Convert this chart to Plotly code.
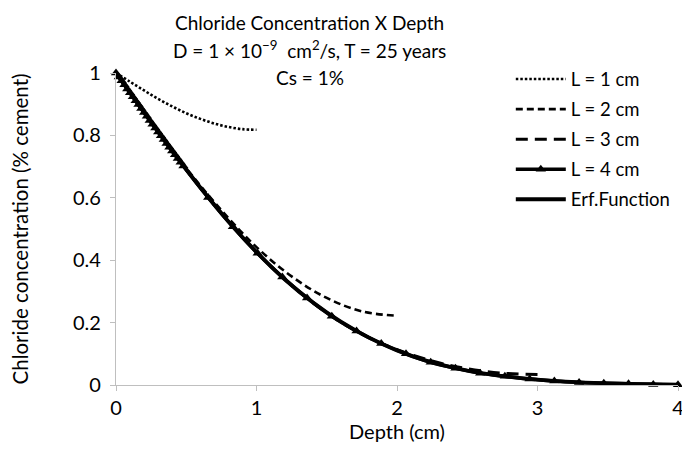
import plotly.graph_objects as go

# depth (cm) and chloride concentration (% cement)
x_l1 = [0, 0.1, 0.2, 0.3, 0.4, 0.5, 0.6, 0.7, 0.8, 0.9, 1.0]
y_l1 = [1, 0.972, 0.944, 0.917, 0.893, 0.871, 0.853, 0.838, 0.827, 0.820, 0.818]

x_l2 = [0, 0.25, 0.5, 0.75, 1.0, 1.25, 1.5, 1.75, 2.0]
y_l2 = [1, 0.844, 0.695, 0.560, 0.442, 0.348, 0.279, 0.236, 0.222]

x_l3 = [0, 0.25, 0.5, 0.75, 1.0, 1.25, 1.5, 1.75, 2.0, 2.25, 2.5, 2.75, 3.0]
y_l3 = [1, 0.842, 0.690, 0.551, 0.426, 0.319, 0.231, 0.163, 0.113, 0.077, 0.052, 0.038, 0.034]

x_l4 = [0, 0.02, 0.04, 0.06, 0.08, 0.10, 0.12, 0.14, 0.16, 0.18, 0.20, 0.22, 0.24,
        0.26, 0.28, 0.30, 0.32, 0.34, 0.36, 0.38, 0.40, 0.42, 0.44, 0.46, 0.48,
        0.656, 0.832, 1.008, 1.184, 1.36, 1.536, 1.712, 1.888, 2.064, 2.24, 2.416,
        2.592, 2.768, 2.944, 3.12, 3.296, 3.472, 3.648, 3.824, 4.0]
y_l4 = [1, 0.987, 0.975, 0.962, 0.949, 0.937, 0.924, 0.911, 0.899, 0.886, 0.873, 0.861, 0.848,
        0.836, 0.824, 0.811, 0.799, 0.787, 0.774, 0.762, 0.750, 0.738, 0.726, 0.714, 0.702,
        0.601, 0.507, 0.422, 0.346, 0.279, 0.220, 0.173, 0.133, 0.100, 0.073, 0.054,
        0.038, 0.028, 0.019, 0.013, 0.008, 0.006, 0.004, 0.002, 0.001]

x_erf = [0, 0.2, 0.4, 0.6, 0.8, 1.0, 1.2, 1.4, 1.6, 1.8, 2.0, 2.2, 2.4, 2.6, 2.8,
         3.0, 3.2, 3.4, 3.6, 3.8, 4.0]
y_erf = [1, 0.873, 0.750, 0.633, 0.524, 0.426, 0.339, 0.265, 0.203, 0.152, 0.111,
         0.079, 0.056, 0.038, 0.026, 0.017, 0.011, 0.007, 0.004, 0.0025, 0.0014]

FONT = "Lato, Carlito, Calibri, sans-serif"

fig = go.Figure()

fig.add_trace(go.Scatter(x=x_l1, y=y_l1, name="L = 1 cm", mode="lines", legendgroup="a",
                         line=dict(color="black", width=2.6, dash="2.5px,2px", shape="spline")))
fig.add_trace(go.Scatter(x=x_l2, y=y_l2, name="L = 2 cm", mode="lines", legendgroup="b",
                         line=dict(color="black", width=2.6, dash="7px,4px", shape="spline")))
fig.add_trace(go.Scatter(x=x_l3, y=y_l3, name="L = 3 cm", mode="lines", legendgroup="c",
                         line=dict(color="black", width=3, dash="12px,7px", shape="spline")))
fig.add_trace(go.Scatter(x=x_l4, y=y_l4, name="L = 4 cm", mode="lines+markers", legendgroup="d",
                         line=dict(color="black", width=3.5, shape="spline"),
                         marker=dict(symbol="triangle-up", size=9, color="black"),
                         cliponaxis=False))
fig.add_trace(go.Scatter(x=x_erf, y=y_erf, name="Erf.Function", mode="lines", legendgroup="e",
                         line=dict(color="black", width=3.8, shape="spline")))

# three-line chart title, centred over the left part of the plot
title_lines = ["Chloride Concentration X Depth",
               "D = 1 × 10<sup>−9</sup>  cm<sup>2</sup>/s, T = 25 years",
               "Cs = 1%"]
for txt, yy in zip(title_lines, [1.163, 1.074, 0.987]):
    fig.add_annotation(text=txt, xref="paper", yref="paper", x=0.345, y=yy,
                       xanchor="center", yanchor="middle", showarrow=False,
                       font=dict(size=19))

# the page body adds an 8px margin, so the figure is 8px smaller than the window
fig.update_layout(
    width=682, height=442,
    margin=dict(l=108, r=6, t=65, b=65),
    paper_bgcolor="white", plot_bgcolor="white",
    font=dict(family=FONT, size=20, color="black"),
    showlegend=True,
    legend=dict(x=0.7025, y=1.04, xanchor="left", yanchor="top", bgcolor="rgba(0,0,0,0)",
                font=dict(size=18.5), tracegroupgap=3, itemwidth=50),
    xaxis=dict(range=[0, 4], tickvals=[0, 1, 2, 3, 4], showgrid=False, zeroline=False,
               showline=True, linecolor="#bfbfbf", linewidth=1.3,
               ticks="outside", ticklen=5, tickcolor="#bfbfbf", ticklabeloverflow="allow",
               title=dict(text="Depth (cm)", font=dict(size=20), standoff=3)),
    yaxis=dict(range=[0, 1], tickvals=[0, 0.2, 0.4, 0.6, 0.8, 1],
               ticktext=["0", "0.2", "0.4", "0.6", "0.8", "1"],
               showgrid=False, zeroline=False, ticklabelstandoff=5,
               showline=True, linecolor="#bfbfbf", linewidth=1.3,
               ticks="outside", ticklen=5, tickcolor="#bfbfbf",
               title=dict(text="Chloride concentration (% cement)", font=dict(size=20.5), standoff=38)),
)

fig.write_html("out.html")
